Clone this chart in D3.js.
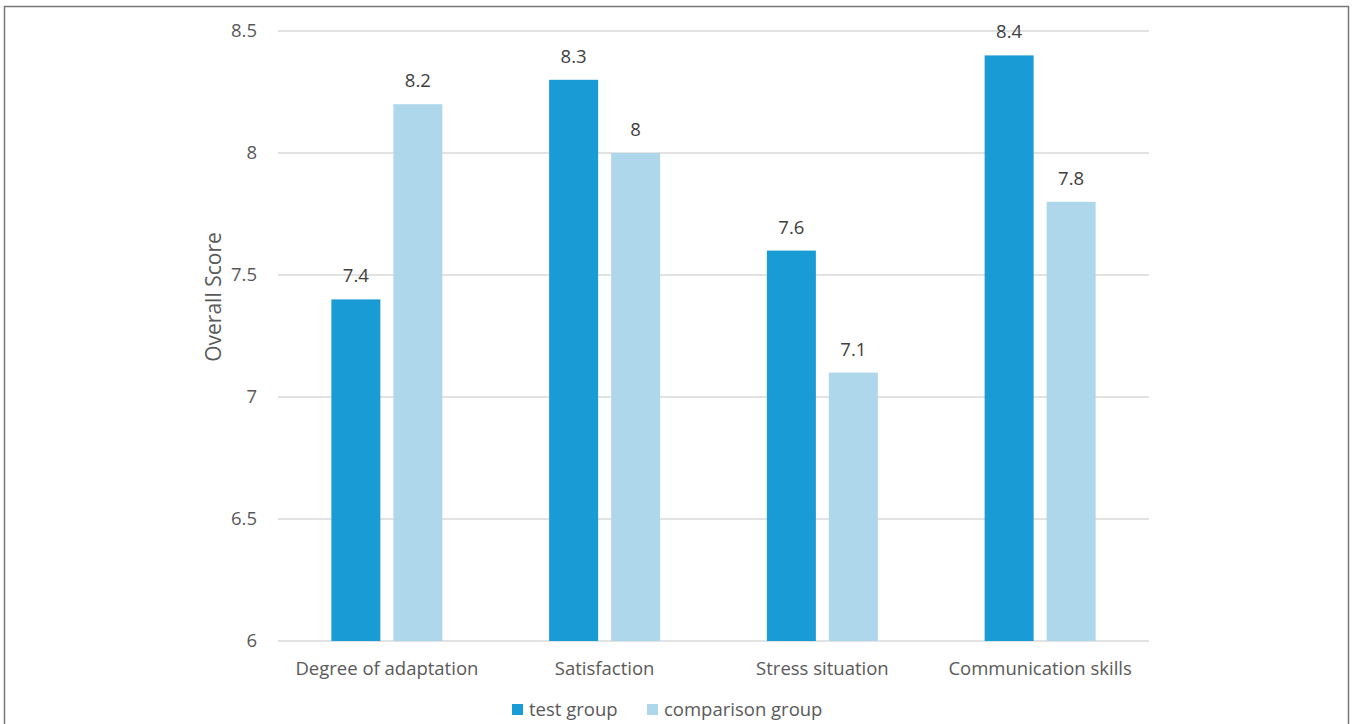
<!DOCTYPE html>
<html>
<head>
<meta charset="utf-8">
<script src="https://cdn.jsdelivr.net/npm/d3@7"></script>
<style>
  html, body { margin: 0; padding: 0; background: #fff; }
  svg { display: block; font-family: "Open Sans", sans-serif; }
</style>
</head>
<body>
<div id="app"></div>
<script>
// chart data
var categories = ['Degree of adaptation', 'Satisfaction', 'Stress situation', 'Communication skills'];
var seriesNames = ['test group', 'comparison group'];
var testGroup = [7.4, 8.3, 7.6, 8.4];
var comparisonGroup = [8.2, 8.0, 7.1, 7.8];
var yTicks = [6, 6.5, 7, 7.5, 8, 8.5];

var width = 1352, height = 724;
var colors = ['#199bd6', '#afd7eb'];
var fontSize = '18.5px';

var svg = d3.select('#app')
    .append('svg')
    .attr('width', width)
    .attr('height', height);

// outer frame
svg.append('rect')
    .attr('x', 4.5)
    .attr('y', 6.5)
    .attr('width', 1344)
    .attr('height', 730)
    .attr('fill', 'none')
    .attr('stroke', '#777')
    .attr('stroke-width', 1.5);

var plotLeft = 278, plotRight = 1149, plotTop = 31, plotBottom = 641;

var x = d3.scaleBand()
    .domain(categories)
    .range([plotLeft, plotRight]);

var y = d3.scaleLinear()
    .domain([6, 8.5])
    .range([plotBottom, plotTop]);

// gridlines
svg.append('g')
    .selectAll('line')
    .data(yTicks)
    .enter()
    .append('line')
    .attr('x1', plotLeft)
    .attr('x2', plotRight)
    .attr('y1', function (d) { return y(d) })
    .attr('y2', function (d) { return y(d) })
    .attr('stroke', '#d9d9d9')
    .attr('stroke-width', 1.5);

// y tick labels
var yAxis = svg.append('g')
    .attr('transform', 'translate(' + (plotLeft - 21) + ',0)')
    .call(d3.axisLeft(y).tickValues(yTicks).tickSize(0).tickPadding(0).tickFormat(d3.format('~g')));
yAxis.select('.domain').remove();
yAxis.selectAll('text')
    .attr('fill', '#595959')
    .style('font-size', fontSize)
    .style('font-family', '"Open Sans", sans-serif');

// x labels
var xAxis = svg.append('g')
    .attr('transform', 'translate(0,' + plotBottom + ')')
    .call(d3.axisBottom(x).tickSize(0).tickPadding(21));
xAxis.select('.domain').remove();
xAxis.selectAll('text')
    .attr('fill', '#595959')
    .style('font-size', fontSize)
    .style('font-family', '"Open Sans", sans-serif');

// y title
svg.append('text')
    .attr('transform', 'translate(221,297) rotate(-90)')
    .attr('text-anchor', 'middle')
    .attr('fill', '#595959')
    .style('font-size', '21px')
    .text('Overall Score');

// bars
var barW = 49, gap = 13;
var series = [testGroup, comparisonGroup];
var inner = d3.scaleOrdinal()
    .domain([0, 1])
    .range([-(barW + gap / 2), gap / 2]);

series.forEach(function (vals, s) {
    var rows = categories.map(function (c, i) { return { cat: c, v: vals[i] } });
    var g = svg.append('g');
    g.selectAll('rect')
        .data(rows)
        .enter()
        .append('rect')
        .attr('x', function (d) { return x(d.cat) + x.bandwidth() / 2 + inner(s) })
        .attr('y', function (d) { return y(d.v) })
        .attr('width', barW)
        .attr('height', function (d) { return plotBottom - y(d.v) })
        .attr('fill', colors[s]);
    g.selectAll('text')
        .data(rows)
        .enter()
        .append('text')
        .attr('x', function (d) { return x(d.cat) + x.bandwidth() / 2 + inner(s) + barW / 2 })
        .attr('y', function (d) { return y(d.v) - 17 })
        .attr('text-anchor', 'middle')
        .attr('fill', '#404040')
        .style('font-size', fontSize)
        .text(function (d) { return d3.format('~g')(d.v) });
});

// legend
var legend = svg.append('g').attr('transform', 'translate(512,704)');
var legendX = [0, 135];
seriesNames.forEach(function (name, i) {
    var item = legend.append('g').attr('transform', 'translate(' + legendX[i] + ',0)');
    item.append('rect')
        .attr('width', 11)
        .attr('height', 11)
        .attr('fill', colors[i]);
    item.append('text')
        .attr('x', 17)
        .attr('y', 12)
        .attr('fill', '#595959')
        .style('font-size', fontSize)
        .text(name);
});
</script>
</body>
</html>
